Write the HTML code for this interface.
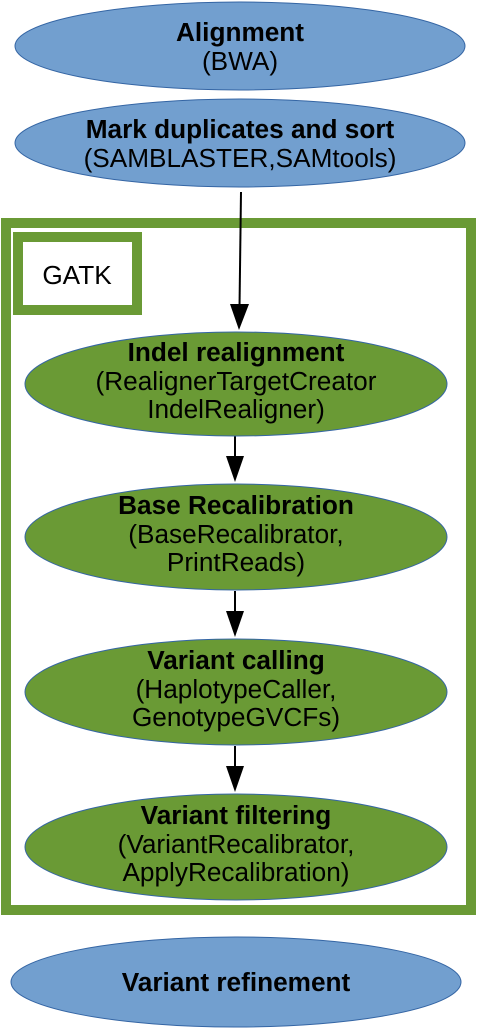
<!DOCTYPE html>
<html><head><style>body{margin:0;background:#fff}svg{display:block}</style></head><body>
<svg width="477" height="1028" viewBox="0 0 477 1028" xmlns="http://www.w3.org/2000/svg" font-family="Liberation Sans, sans-serif" font-size="26.2" text-anchor="middle">
<ellipse cx="240" cy="46" rx="225" ry="44" fill="#729fcf" stroke="#3465a4" stroke-width="1"/>
<text x="240" y="41" font-weight="bold">Alignment</text><text x="240" y="70">(BWA)</text>
<ellipse cx="240" cy="143" rx="225" ry="44" fill="#729fcf" stroke="#3465a4" stroke-width="1"/>
<text x="240" y="138" font-weight="bold">Mark duplicates and sort</text><text x="240" y="167">(SAMBLASTER,SAMtools)</text>
<rect x="6" y="223" width="465" height="687" fill="none" stroke="#6a9a35" stroke-width="10"/>
<rect x="18" y="237" width="119" height="73" fill="#fff" stroke="#6a9a35" stroke-width="10"/>
<text x="77" y="284">GATK</text>
<g stroke="#000" stroke-width="2">
<line x1="241" y1="192" x2="239.5" y2="308"/>
<line x1="235" y1="436" x2="235" y2="458"/>
<line x1="235" y1="591" x2="235" y2="613"/>
<line x1="235" y1="746" x2="235" y2="768"/>
</g>
<g fill="#000">
<polygon points="230,304 249,304 239,330"/>
<polygon points="226,456 244,456 235,482"/>
<polygon points="226,611 244,611 235,637"/>
<polygon points="226,766 244,766 235,792"/>
</g>
<g fill="#6a9a35" stroke="#3465a4" stroke-width="1">
<ellipse cx="236" cy="384" rx="211" ry="52"/>
<ellipse cx="236" cy="537" rx="211" ry="53"/>
<ellipse cx="236" cy="692" rx="211" ry="53"/>
<ellipse cx="236" cy="847" rx="211" ry="53"/>
</g>
<text x="236" y="361" font-weight="bold">Indel realignment</text><text x="236" y="390">(RealignerTargetCreator</text><text x="236" y="418">IndelRealigner)</text>
<text x="236" y="514" font-weight="bold">Base Recalibration</text><text x="236" y="543">(BaseRecalibrator,</text><text x="236" y="571">PrintReads)</text>
<text x="236" y="669" font-weight="bold">Variant calling</text><text x="236" y="698">(HaplotypeCaller,</text><text x="236" y="726">GenotypeGVCFs)</text>
<text x="236" y="824" font-weight="bold">Variant filtering</text><text x="236" y="853">(VariantRecalibrator,</text><text x="236" y="881">ApplyRecalibration)</text>
<ellipse cx="236" cy="982" rx="225" ry="45" fill="#729fcf" stroke="#3465a4" stroke-width="1"/>
<text x="236" y="991" font-weight="bold">Variant refinement</text>
</svg>
</body></html>
